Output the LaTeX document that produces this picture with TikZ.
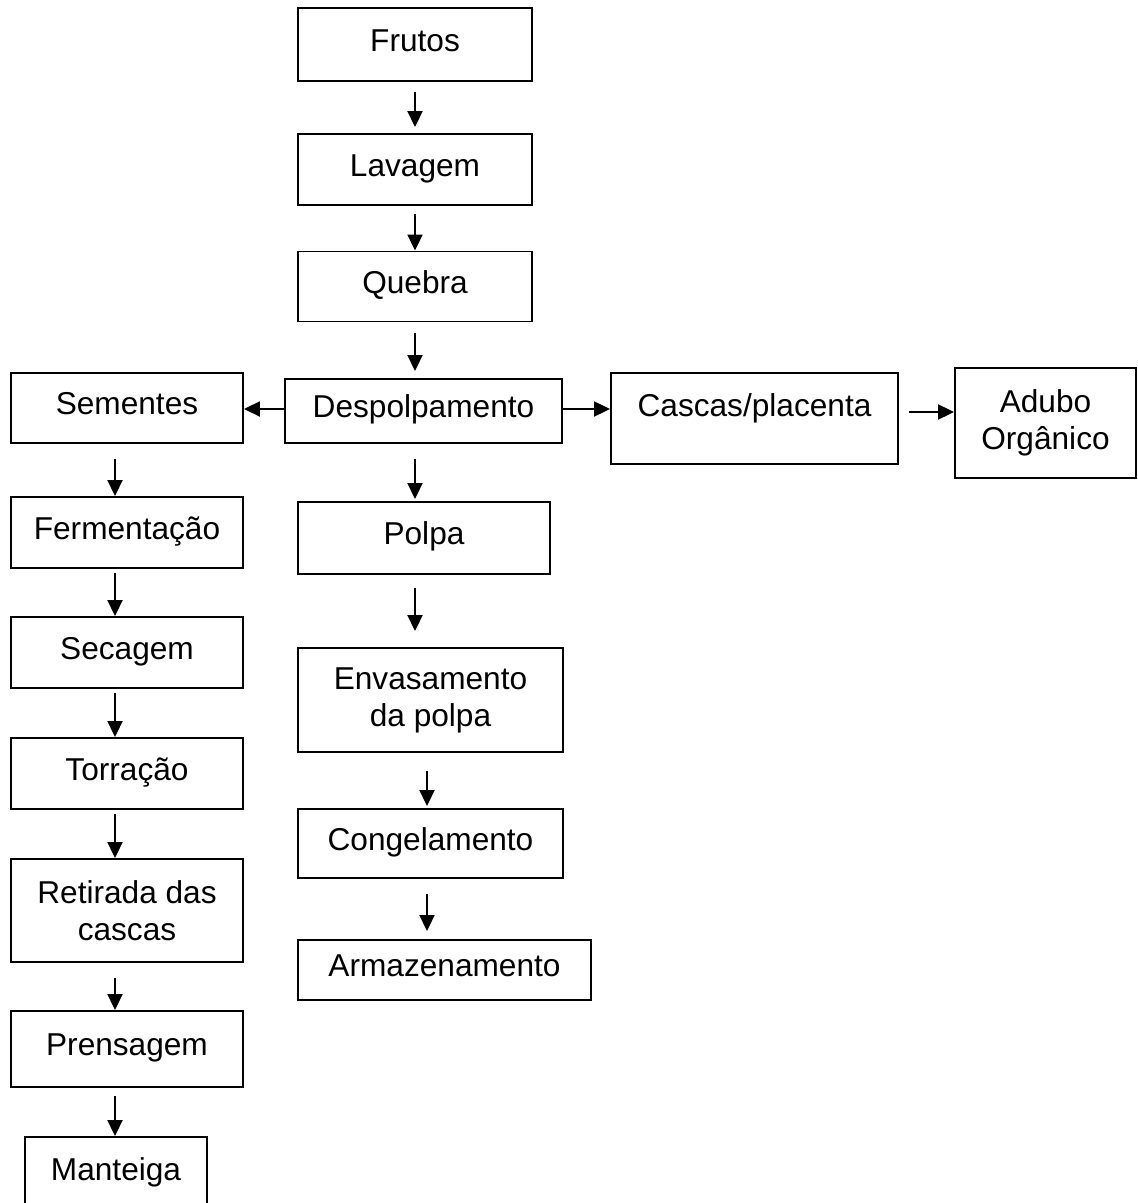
\documentclass[tikz,border=0pt]{standalone}
\usepackage{fontspec}
\setmainfont{Liberation Sans}
\usetikzlibrary{arrows.meta}

\begin{document}
\begin{tikzpicture}[x=0.02cm,y=-0.02cm]
\tikzset{BoxStyle/.style = 
	{shape = rectangle,
		%	rounded corners,
		line width = 1.1pt,
		inner sep = 0pt,
		font = \fontsize{18}{21}\selectfont,
		color=black,
		draw}}
\tikzset{OneLine/.style = {BoxStyle, text height = 12.9pt, text depth = 5pt}}
\tikzset{TwoLines/.style = {BoxStyle, align = center}}
\tikzset{EdgeStyle/.style = {line width = 1.1pt, -{Triangle[length=0.32cm,width=0.3cm]}}}
%\draw[help lines] (0,0) grid (1138,1203);
\useasboundingbox (0,0) rectangle (1138,1203);

\node[OneLine, minimum width=4.68cm, minimum height=1.46cm] (Frutos) at (415,44.5) {Frutos};
\node[OneLine, minimum width=4.68cm, minimum height=1.42cm] (Lavagem) at (415,169.5) {Lavagem};
\node[OneLine, minimum width=4.68cm, minimum height=1.40cm] (Quebra) at (415,286.5) {Quebra};
\node[OneLine, minimum width=5.54cm, minimum height=1.28cm] (Despolpamento) at (423.5,411) {Despolpamento};
\node[OneLine, minimum width=4.64cm, minimum height=1.40cm] (Sementes) at (127,408) {Sementes};
\node[OneLine, minimum width=5.74cm, minimum height=1.82cm, text depth=15pt] (Cascas) at (754.5,418.5) {Cascas/placenta};
\node[TwoLines, minimum width=3.62cm, minimum height=2.20cm] (Adubo) at (1045.5,423) {Adubo\\Orgânico};

\node[OneLine, minimum width=4.64cm, minimum height=1.42cm] (Fermentacao) at (127,532.5) {Fermentação};
\node[OneLine, minimum width=4.64cm, minimum height=1.42cm] (Secagem) at (127,652.5) {Secagem};
\node[OneLine, minimum width=4.64cm, minimum height=1.42cm] (Torracao) at (127,773.5) {Torração};
\node[TwoLines, minimum width=4.64cm, minimum height=2.06cm] (Retirada) at (127,910.5) {Retirada das\\cascas};
\node[OneLine, minimum width=4.64cm, minimum height=1.52cm] (Prensagem) at (127,1049) {Prensagem};
\node[OneLine, minimum width=3.64cm, minimum height=1.46cm] (Manteiga) at (116,1173.5) {Manteiga};

\node[OneLine, minimum width=5.04cm, minimum height=1.44cm] (Polpa) at (424,538) {Polpa};
\node[TwoLines, minimum width=5.30cm, minimum height=2.08cm] (Envasamento) at (430.5,700) {Envasamento\\da polpa};
\node[OneLine, minimum width=5.30cm, minimum height=1.38cm] (Congelamento) at (430.5,843.5) {Congelamento};
\node[OneLine, minimum width=5.86cm, minimum height=1.20cm] (Armazenamento) at (444.5,970) {Armazenamento};

\draw[EdgeStyle, shorten <=0.2cm, shorten >=0.12cm] (Frutos.south) -- (Lavagem.north);
\draw[EdgeStyle, shorten <=0.16cm] (Lavagem.south) -- (Quebra.north);
\draw[EdgeStyle, shorten <=0.22cm, shorten >=0.14cm] (Quebra.south) -- (Quebra.south |- Despolpamento.north);
\draw[EdgeStyle] ([yshift=0.04cm]Despolpamento.west) -- ([yshift=0.04cm]Despolpamento.west -| Sementes.east);
\draw[EdgeStyle] ([yshift=0.04cm]Despolpamento.east) -- ([yshift=0.04cm]Despolpamento.east -| Cascas.west);
\draw[EdgeStyle, shorten <=0.2cm] ([yshift=0.13cm]Cascas.east) -- ([yshift=0.13cm]Cascas.east -| Adubo.west);

\draw[EdgeStyle, shorten <=0.3cm, shorten >=0.04cm] ([xshift=-0.17cm]Despolpamento.south) -- ([xshift=-0.17cm]Despolpamento.south |- Polpa.north);
\draw[EdgeStyle, shorten <=0.26cm, shorten >=0.32cm] ([xshift=-0.18cm]Polpa.south) -- ([xshift=-0.18cm]Polpa.south |- Envasamento.north);
\draw[EdgeStyle, shorten <=0.36cm, shorten >=0.04cm] ([xshift=-0.07cm]Envasamento.south) -- ([xshift=-0.07cm]Envasamento.south |- Congelamento.north);
\draw[EdgeStyle, shorten <=0.3cm, shorten >=0.16cm] ([xshift=-0.07cm]Congelamento.south) -- ([xshift=-0.07cm]Congelamento.south |- Armazenamento.north);

\draw[EdgeStyle, shorten <=0.3cm] ([xshift=-0.24cm]Sementes.south) -- ([xshift=-0.24cm]Fermentacao.north);
\draw[EdgeStyle, shorten <=0.08cm] ([xshift=-0.24cm]Fermentacao.south) -- ([xshift=-0.24cm]Secagem.north);
\draw[EdgeStyle, shorten <=0.08cm] ([xshift=-0.24cm]Secagem.south) -- ([xshift=-0.24cm]Torracao.north);
\draw[EdgeStyle, shorten <=0.08cm] ([xshift=-0.24cm]Torracao.south) -- ([xshift=-0.24cm]Retirada.north);
\draw[EdgeStyle, shorten <=0.3cm] ([xshift=-0.24cm]Retirada.south) -- ([xshift=-0.24cm]Prensagem.north);
\draw[EdgeStyle, shorten <=0.16cm] ([xshift=-0.24cm]Prensagem.south) -- ([xshift=-0.24cm]Prensagem.south |- Manteiga.north);
\end{tikzpicture}
\end{document}
